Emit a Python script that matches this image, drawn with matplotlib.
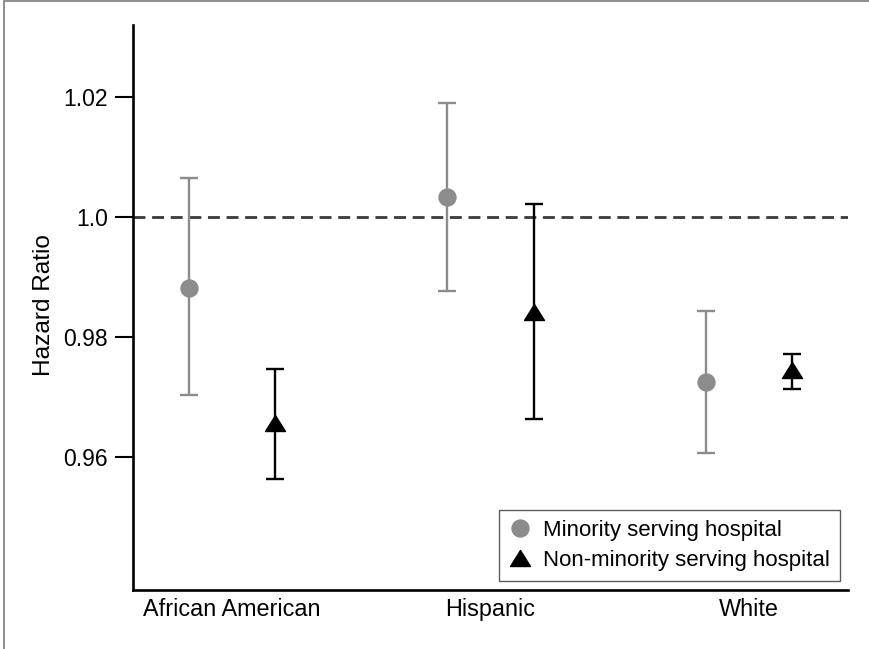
import matplotlib
matplotlib.use("Agg")
import matplotlib.pyplot as plt
from matplotlib.path import Path
from matplotlib.patches import Rectangle
from matplotlib.lines import Line2D
import numpy as np

plt.rcParams['font.family'] = ['Liberation Sans', 'DejaVu Sans']

categories = ["African American", "Hispanic", "White"]
series_names = ["Minority serving hospital", "Non-minority serving hospital"]

msh_hr = [0.9882, 1.0033, 0.9725]
msh_lo = [0.9703, 0.9877, 0.9606]
msh_hi = [1.0065, 1.0190, 0.9844]

nmsh_hr = [0.9657, 0.9842, 0.9745]
nmsh_lo = [0.9563, 0.9663, 0.9713]
nmsh_hi = [0.9746, 1.0022, 0.9771]

ytick_vals = [0.96, 0.98, 1.0, 1.02]
ytick_labels = ["0.96", "0.98", "1.0", "1.02"]
ref_line = 1.0

# positions / styling
x = np.arange(len(categories))
offset = 1 / 6
gray = "#8c8c8c"

fig = plt.figure(figsize=(8.7, 6.49), dpi=100)
ax = fig.add_axes([133 / 870, 1 - 590 / 649, 715 / 870, 565 / 649])

ax.axhline(ref_line, color="#3a3a3a", lw=2.0, linestyle=(0, (4.3, 2.4)), zorder=1)

def err(vals, lo, hi):
    v = np.array(vals); return [v - np.array(lo), np.array(hi) - v]

tri = Path([(0, 0.8), (-1, -0.8), (1, -0.8), (0, 0.8)],
           [Path.MOVETO, Path.LINETO, Path.LINETO, Path.CLOSEPOLY])

ax.errorbar(x - offset, msh_hr, yerr=err(msh_hr, msh_lo, msh_hi), fmt="o",
            color=gray, ecolor=gray, elinewidth=1.7, capsize=6.2, capthick=1.7,
            markersize=12.2, zorder=3)
ax.errorbar(x + offset, nmsh_hr, yerr=err(nmsh_hr, nmsh_lo, nmsh_hi), fmt="none",
            ecolor="black", elinewidth=1.7, capsize=6.2, capthick=1.7, zorder=3)
ax.plot(x + offset, nmsh_hr, linestyle="none", marker=tri, markersize=14.4,
        color="black", zorder=4)

ax.set_xlim(-0.383, 2.383)
ax.set_ylim(0.93783, 1.032)

ax.set_yticks(ytick_vals)
ax.set_yticklabels(ytick_labels)
ax.set_xticks(x)
ax.set_xticklabels(categories)

ax.tick_params(axis="y", direction="out", length=13, width=1.5, pad=5, labelsize=16.5, colors="black")
ax.tick_params(axis="x", length=0, pad=6, labelsize=16.8)

for s in ["top", "right"]:
    ax.spines[s].set_visible(False)
for s in ["left", "bottom"]:
    ax.spines[s].set_linewidth(1.9)

ax.set_ylabel("Hazard Ratio", fontsize=17.6)
ax.yaxis.set_label_coords(-0.109, 0.504)

handles = [
    Line2D([], [], linestyle="none", marker="o", markersize=12.2, color=gray),
    Line2D([], [], linestyle="none", marker=tri, markersize=14.4, color="black"),
]
leg = ax.legend(handles, series_names, loc="lower right", bbox_to_anchor=(0.989, 0.0159),
                fontsize=16, frameon=True, fancybox=False, edgecolor="#333333",
                borderaxespad=0, handlelength=1.0, handletextpad=0.55, labelspacing=0.4,
                borderpad=0.45, markerscale=1.0)
leg.get_frame().set_linewidth(1.0)

fig.patches.append(Rectangle((4.5 / 870, -0.1), 1.2, 1.1 - 1.0 / 649, fill=False,
                             edgecolor="#7a7a7a", lw=1.2, transform=fig.transFigure))

fig.savefig("out.png", dpi=100)
